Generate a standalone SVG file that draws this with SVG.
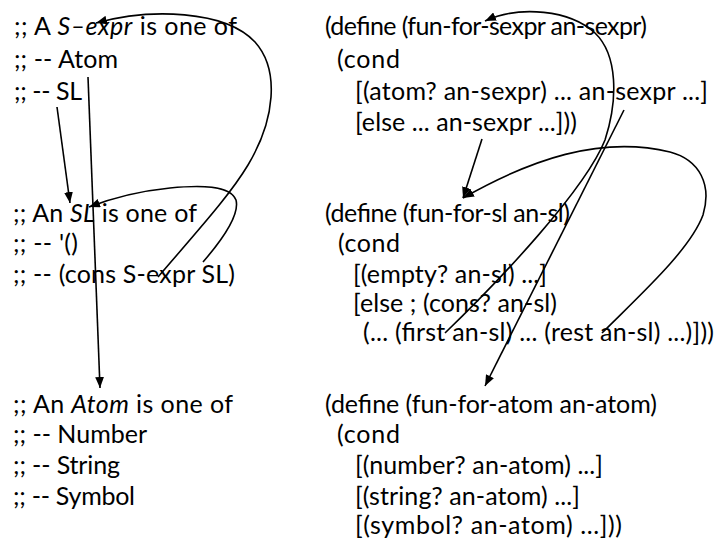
<svg xmlns="http://www.w3.org/2000/svg" width="717" height="539" viewBox="0 0 717 539">
<style>
text{font-family:Lato,"Liberation Sans",sans-serif;font-size:25px;fill:#000}
.i{font-style:italic}
.c{fill:none;stroke:#000;stroke-width:1.6;marker-end:url(#ah)}
</style>
<defs>
<marker id="ah" viewBox="0 0 10 8" refX="10" refY="4" markerWidth="11" markerHeight="9" markerUnits="userSpaceOnUse" orient="auto"><path d="M0,0 L10,4 L0,8 z" fill="#000"/></marker>
</defs>
<rect width="717" height="539" fill="#fff"/>
<g id="sexpr-def">
<text x="14" y="35" textLength="223" lengthAdjust="spacing">;; A <tspan class="i">S–expr</tspan> is one of</text>
<text x="14" y="68" textLength="104" lengthAdjust="spacing">;; -- Atom</text>
<text x="14" y="100" textLength="68" lengthAdjust="spacing">;; -- SL</text>
</g>
<g id="sexpr-fun">
<text x="325" y="35" textLength="322" lengthAdjust="spacing">(define (fun-for-sexpr an-sexpr)</text>
<text x="337" y="68" textLength="63" lengthAdjust="spacing">(cond</text>
<text x="355" y="100" textLength="353" lengthAdjust="spacing">[(atom? an-sexpr) ... an-sexpr ...]</text>
<text x="355" y="131" textLength="222" lengthAdjust="spacing">[else ... an-sexpr ...]))</text>
</g>
<g id="sl-def">
<text x="13" y="222" textLength="184" lengthAdjust="spacing">;; An <tspan class="i">SL</tspan> is one of</text>
<text x="13" y="252" textLength="65" lengthAdjust="spacing">;; -- '()</text>
<text x="13" y="283" textLength="222" lengthAdjust="spacing">;; -- (cons S-expr SL)</text>
</g>
<g id="sl-fun">
<text x="325" y="222" textLength="245" lengthAdjust="spacing">(define (fun-for-sl an-sl)</text>
<text x="338" y="252" textLength="62" lengthAdjust="spacing">(cond</text>
<text x="353" y="283" textLength="194" lengthAdjust="spacing">[(empty? an-sl) ...]</text>
<text x="353" y="312" textLength="204" lengthAdjust="spacing">[else ; (cons? an-sl)</text>
<text x="363" y="341" textLength="351" lengthAdjust="spacing">(... (first an-sl) ... (rest an-sl) ...)]))</text>
</g>
<g id="atom-def">
<text x="13" y="413" textLength="220" lengthAdjust="spacing">;; An <tspan class="i">Atom</tspan> is one of</text>
<text x="13" y="443" textLength="134" lengthAdjust="spacing">;; -- Number</text>
<text x="13" y="474" textLength="107" lengthAdjust="spacing">;; -- String</text>
<text x="13" y="505" textLength="122" lengthAdjust="spacing">;; -- Symbol</text>
</g>
<g id="atom-fun">
<text x="325" y="413" textLength="332" lengthAdjust="spacing">(define (fun-for-atom an-atom)</text>
<text x="337" y="443" textLength="63" lengthAdjust="spacing">(cond</text>
<text x="355" y="474" textLength="248" lengthAdjust="spacing">[(number? an-atom) ...]</text>
<text x="355" y="505" textLength="225" lengthAdjust="spacing">[(string? an-atom) ...]</text>
<text x="355" y="534" textLength="267" lengthAdjust="spacing">[(symbol? an-atom) ...]))</text>
</g>
<g id="connectors">
<path class="c" d="M57,107 L70,203"/>
<path class="c" d="M88,77 L100,388"/>
<path class="c" d="M158,277 C200,228 230,195 248,165 C275,120 280,70 255,42 C225,10 150,8 96,23"/>
<path class="c" d="M203,262 C222,240 240,215 236,200 C230,185 200,185 170,188 C140,191 115,197 89,207"/>
<path class="c" d="M445,333 C500,280 585,190 605,140 C618,100 618,55 595,33 C570,10 520,5 485,21"/>
<path class="c" d="M624,110 L485,386"/>
<path class="c" d="M482,139 L463,198"/>
<path class="c" d="M602,333 C640,295 690,250 703,215 C712,185 700,160 670,152 C600,135 530,160 463,198"/>
</g>
</svg>
